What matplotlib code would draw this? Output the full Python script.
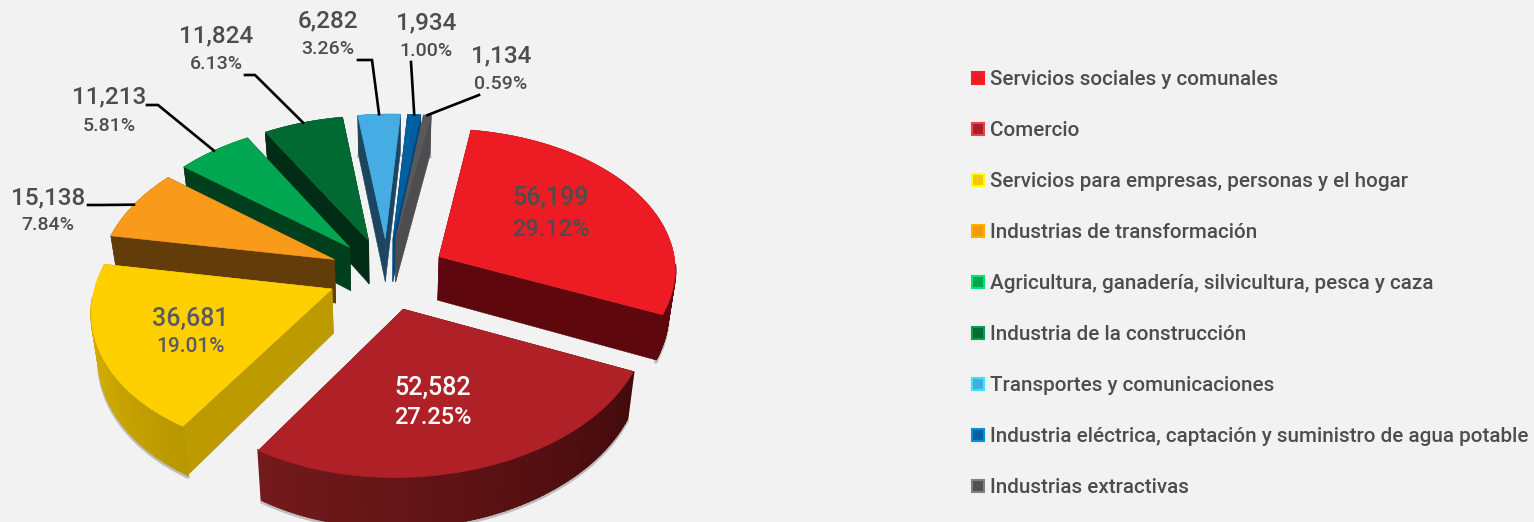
import numpy as np
import matplotlib
matplotlib.use("Agg")
import matplotlib.pyplot as plt
from matplotlib.patches import Polygon
from matplotlib.lines import Line2D
from matplotlib.colors import to_rgb

categories = ["Servicios sociales y comunales", "Comercio",
              "Servicios para empresas, personas y el hogar",
              "Industrias de transformación",
              "Agricultura, ganadería, silvicultura, pesca y caza",
              "Industria de la construcción", "Transportes y comunicaciones",
              "Industria eléctrica, captación y suministro de agua potable",
              "Industrias extractivas"]
values = [56199, 52582, 36681, 15138, 11213, 11824, 6282, 1934, 1134]

top_colors = ["#ed1c24", "#b02127", "#ffd000", "#fa9a1a", "#00a650", "#006a32", "#45ade4", "#005f9e", "#58595b"]
wall_a = ["#5e080e", "#741a1c", "#e8bc00", "#623d0a", "#003f1c", "#002b14", "#1c465f", "#00477a", "#4d4d4f"]
wall_b = ["#5e080e", "#430a0c", "#b89800", "#623d0a", "#003f1c", "#002b14", "#1c465f", "#00477a", "#4d4d4f"]
cut_colors = ["#5e080e", "#430a0c", "#bd9a00", "#623d0a", "#003f1c", "#002b14", "#1c465f", "#00477a", "#4d4d4f"]
legend_outer = ["#ff1a2a", "#f0404a", "#ffff00", "#ffb000", "#00e676", "#00a050", "#40e0ff", "#0090e0", "#808080"]
legend_inner = ["#ed1c24", "#a81f25", "#f5c800", "#f59a10", "#00a650", "#006a32", "#45ade4", "#005f9e", "#505050"]

plt.rcParams["font.family"] = ["Roboto", "DejaVu Sans"]
plt.rcParams["font.weight"] = 500
BG = "#f2f2f2"
TXT = "#4d4d4d"
W, H_PX = 1534, 522
fig = plt.figure(figsize=(W / 100, H_PX / 100), dpi=100, facecolor=BG)
ax = fig.add_axes([0, 0, 1, 1])
ax.set_xlim(0, W)
ax.set_ylim(H_PX, 0)
ax.axis("off")

# pie geometry
CX, CY, A_R, A_L, B, K, DEPTH, EXPL = 387, 274, 238, 235, 144, 0.10, 44, 0.25
SHEAR_FAR, SHEAR_NEAR = 5.5, 9
START = 8.5
NARROW = 0.025


def proj(X, Y, z=0.0):
    X, Y = np.asarray(X, float), np.asarray(Y, float)
    s = 1 / (1 + K * Y)
    x = CX + (np.where(X < 0, A_L, A_R) * X + np.where(Y < 0, SHEAR_NEAR, SHEAR_FAR) * Y) * s
    y = CY - B * Y * s
    return CX + (x - CX) * (1 - NARROW * z), y + DEPTH * s * z


total = sum(values)
edges = START + np.cumsum([0] + values) / total * 360
mids = (edges[:-1] + edges[1:]) / 2


def rim(i, t):
    m, r = np.radians(mids[i]), np.radians(t)
    return EXPL * np.sin(m) + np.sin(r), EXPL * np.cos(m) + np.cos(r)


def apex(i):
    m = np.radians(mids[i])
    return EXPL * np.sin(m), EXPL * np.cos(m)


def quad(p, q, col, z, lw=0.4):
    x0, y0 = proj(*p)
    x1, y1 = proj(*q)
    x2, y2 = proj(*q, 1)
    x3, y3 = proj(*p, 1)
    ax.add_patch(Polygon([(x0, y0), (x1, y1), (x2, y2), (x3, y3)], closed=True,
                         fc=col, ec=col, lw=lw, zorder=z))


zo = 10
for i in sorted(range(len(values)), key=lambda j: -np.cos(np.radians(mids[j]))):
    ts = np.linspace(edges[i], edges[i + 1], max(8, int(edges[i + 1] - edges[i])) + 1)
    sx, sy = proj(*rim(i, ts), 1)
    ax.plot(sx, sy + 2, color="#a8a8a8", lw=2.5, alpha=0.7, zorder=zo, solid_capstyle="round")
    zo += 1
    faces = []
    a = apex(i)
    faces.append((a, rim(i, ts[0]), cut_colors[i], 0.4))
    faces.append((a, rim(i, ts[-1]), cut_colors[i], 0.4))
    ca, cb = np.array(to_rgb(wall_a[i])), np.array(to_rgb(wall_b[i]))
    for n in range(len(ts) - 1):
        c = tuple(ca + (cb - ca) * (1 - (n + .5) / (len(ts) - 1)))
        # only the camera-facing part of the rim gets a wide seam-hiding edge
        facing = np.cos(np.radians((ts[n] + ts[n + 1]) / 2)) < -0.05
        faces.append((rim(i, ts[n]), rim(i, ts[n + 1]), c, 1.5 if facing else 0.2))
    faces.sort(key=lambda f: -(f[0][1] + f[1][1]))
    for p, q, c, lw in faces:
        quad(p, q, c, zo, lw)
        zo += 1
    xr, yr = proj(*rim(i, ts))
    xa, ya = proj(*a)
    ax.add_patch(Polygon(np.column_stack([np.r_[xa, xr], np.r_[ya, yr]]), closed=True,
                         fc=top_colors[i], ec=top_colors[i], lw=0.4, zorder=zo))
    zo += 1

inside = {0: (551, 198, 229, "#4d4d4d"), 1: (433, 388, 418, "white"), 2: (190, 319, 346, "#5a5a62")}
for i, (x, y1, y2, c) in inside.items():
    ax.text(x, y1, f"{values[i]:,}", fontsize=18, color=c, ha="center", va="center", zorder=500)
    ax.text(x, y2, f"{values[i] / total * 100:.2f}%", fontsize=17 if i < 2 else 15, color=c,
            ha="center", va="center", zorder=500)

outside = {3: ((48, 198), (48, 225), [(88, 205), (100, 205)], edges[3] + 14),
           4: ((109, 97), (109, 126), [(147, 105), (158, 105)], mids[4]),
           5: ((216, 36), (216, 64), [(245, 75), (255, 75)], mids[5]),
           6: ((328, 21), (328, 49), [(358, 60), (372, 60)], mids[6]),
           7: ((426, 23), (426, 51), [(411, 62)], mids[7]),
           8: ((501, 56), (501, 84), [(479, 95)], mids[8])}
for i, (vxy, pxy, elbow, ang) in outside.items():
    ax.text(*vxy, f"{values[i]:,}", fontsize=17.5, color=TXT, ha="center", va="center", zorder=500)
    ax.text(*pxy, f"{values[i] / total * 100:.2f}%", fontsize=14, color=TXT, ha="center", va="center", zorder=500)
    sx, sy = proj(*rim(i, ang))
    pts = elbow + [(float(sx), float(sy))]
    ax.plot([p[0] for p in pts], [p[1] for p in pts], color="black", lw=1.9, zorder=400,
            solid_joinstyle="miter")

handles = [Line2D([], [], ls="none", marker="s", mfc=legend_inner[i], mec=legend_outer[i], mew=1.5, ms=9,
                  label=categories[i]) for i in range(len(categories))]
leg = ax.legend(handles=handles, loc="upper left", bbox_to_anchor=(970 / W, 1 - 70 / H_PX), frameon=False,
                prop={"size": 14.85, "weight": 500}, labelcolor=TXT, labelspacing=1.55, handlelength=0.8,
                handletextpad=0.15, borderpad=0, borderaxespad=0)
fig.savefig("out.png", dpi=100, facecolor=BG)
